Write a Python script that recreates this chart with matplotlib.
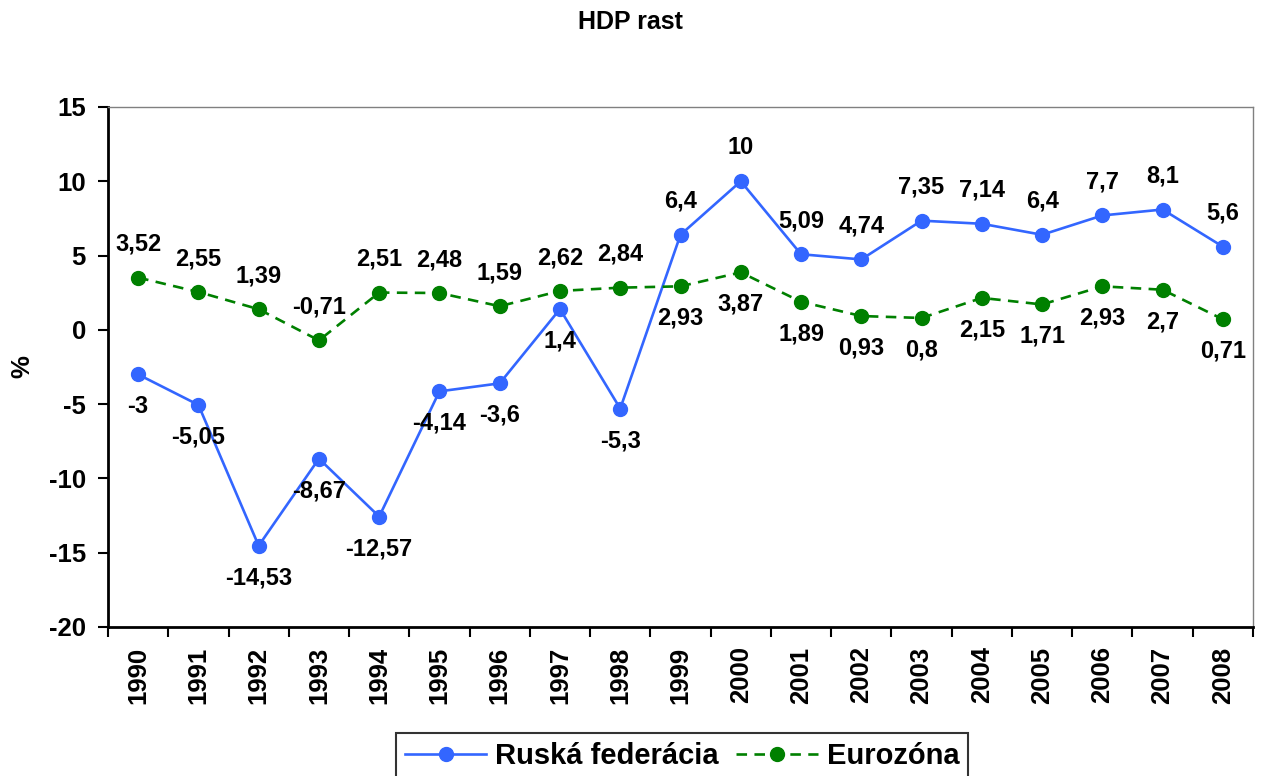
import matplotlib
matplotlib.use("Agg")
import matplotlib.pyplot as plt

plt.rcParams['font.family'] = ['Liberation Sans', 'DejaVu Sans']

years = ["1990", "1991", "1992", "1993", "1994", "1995", "1996", "1997", "1998", "1999",
         "2000", "2001", "2002", "2003", "2004", "2005", "2006", "2007", "2008"]
russia = [-3, -5.05, -14.53, -8.67, -12.57, -4.14, -3.6, 1.4, -5.3, 6.4,
          10, 5.09, 4.74, 7.35, 7.14, 6.4, 7.7, 8.1, 5.6]
euro = [3.52, 2.55, 1.39, -0.71, 2.51, 2.48, 1.59, 2.62, 2.84, 2.93,
        3.87, 1.89, 0.93, 0.8, 2.15, 1.71, 2.93, 2.7, 0.71]
russia_label_above = [False]*9 + [True]*10
euro_label_above = [True]*9 + [False]*10

def fmt(v):
    return ("%g" % v).replace(".", ",")

fig = plt.figure(figsize=(12.61, 7.76), dpi=100)
ax = fig.add_axes([108/1261, 1-627/776, (1253-108)/1261, (627-107)/776])

x = list(range(len(years)))
ax.plot(x, russia, color='#3366FF', lw=1.9, marker='o', ms=10, label='Ruská federácia')
ax.plot(x, euro, color='#008000', lw=1.9, ls=(0, (4, 2.8)), marker='o', ms=10, label='Eurozóna')

for i in x:
    off = 24 if russia_label_above[i] else -23
    ax.annotate(fmt(russia[i]), (i, russia[i]), xytext=(0, off), textcoords='offset points',
                ha='center', va='center', fontsize=17, fontweight='bold')
    off = 24 if euro_label_above[i] else -23
    ax.annotate(fmt(euro[i]), (i, euro[i]), xytext=(0, off), textcoords='offset points',
                ha='center', va='center', fontsize=17, fontweight='bold')

ax.set_xlim(-0.5, len(years)-0.5)
ax.set_ylim(-20, 15)
ax.set_yticks(range(-20, 16, 5))
ax.set_yticklabels([str(v) for v in range(-20, 16, 5)], fontsize=18.5, fontweight='bold')
ax.set_xticks([i - 0.5 for i in range(len(years)+1)])
ax.set_xticklabels([])
ax.set_xticks(x, minor=True)
ax.set_xticklabels(years, minor=True, rotation=90, fontsize=18.5, fontweight='bold')
ax.tick_params(axis='x', which='minor', length=0, pad=14)
ax.tick_params(axis='x', which='major', length=7, width=1.5, direction='out')
ax.tick_params(axis='y', length=7, width=1.5, direction='out', pad=9)

for s in ['left', 'bottom']:
    ax.spines[s].set_linewidth(2)
    ax.spines[s].set_color('black')
for s in ['top', 'right']:
    ax.spines[s].set_color('#808080')
    ax.spines[s].set_linewidth(1)

ax.set_ylabel('%', fontsize=18.5, fontweight='bold')
ax.yaxis.set_label_coords(-0.064, 0.5)

fig.text(0.5, 1-22/776, 'HDP rast', ha='center', va='center', fontsize=18, fontweight='bold')

leg = fig.legend(loc='center', bbox_to_anchor=(682/1261, 1-756/776), ncol=2,
                 prop={'size': 21, 'weight': 'bold'}, frameon=True, fancybox=False,
                 edgecolor='black', handlelength=2.8, columnspacing=0.6, handletextpad=0.3,
                 borderpad=0.3, borderaxespad=0)
leg.get_frame().set_linewidth(1.5)

fig.savefig('out.png', dpi=100)
